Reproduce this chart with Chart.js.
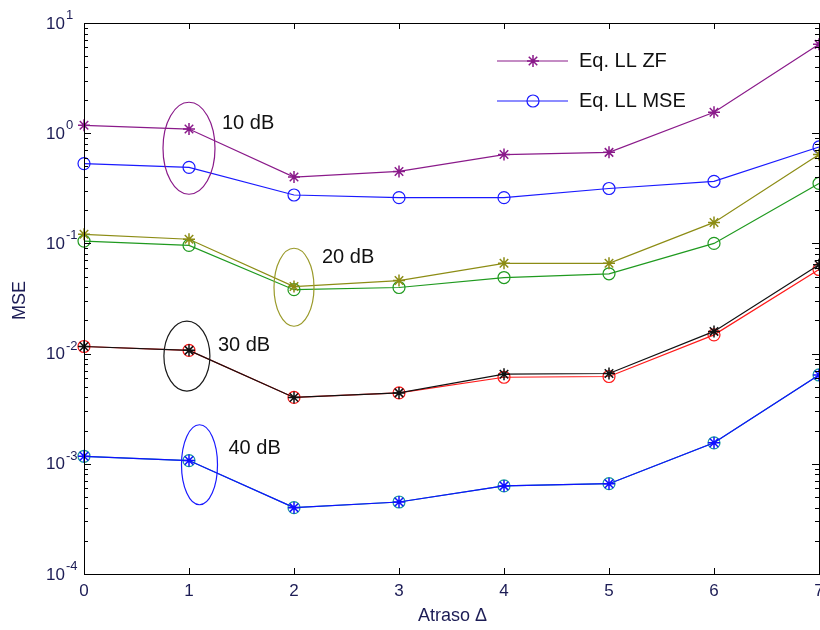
<!DOCTYPE html>
<html>
<head>
<meta charset="utf-8">
<script src="https://cdn.jsdelivr.net/npm/chart.js@4.4.1/dist/chart.umd.min.js"></script>
<style>
  html, body { margin: 0; padding: 0; background: #fff; }
  #wrap { width: 820px; height: 630px; }
</style>
</head>
<body>
<div id="wrap"><canvas id="mse-chart" width="820" height="630"></canvas></div>
<script>
// valeurs
const atraso = [0, 1, 2, 3, 4, 5, 6, 7];
const zf10  = [1.18, 1.09, 0.40, 0.45, 0.64, 0.67, 1.55, 6.4];
const mse10 = [0.53, 0.49, 0.275, 0.26, 0.26, 0.315, 0.366, 0.75];
const zf20  = [0.121, 0.109, 0.0406, 0.046, 0.066, 0.066, 0.155, 0.64];
const mse20 = [0.105, 0.096, 0.038, 0.0398, 0.049, 0.053, 0.100, 0.35];
const zf30  = [0.0116, 0.0107, 0.0040, 0.0044, 0.0065, 0.0066, 0.0159, 0.064];
const mse30 = [0.0116, 0.0107, 0.0040, 0.0044, 0.0061, 0.0062, 0.0148, 0.058];
const zf40  = [0.00117, 0.00107, 0.00040, 0.00045, 0.00063, 0.00066, 0.00155, 0.0064];
const mse40 = [0.00117, 0.00107, 0.00040, 0.00045, 0.00063, 0.00066, 0.00155, 0.0064];

const xTickValues = [0, 1, 2, 3, 4, 5, 6, 7];
const yDecades = [1, 0, -1, -2, -3, -4];
const legendNames = ['Eq. LL ZF', 'Eq. LL MSE'];

// ellipses "xx dB" (centre en coordonnees des donnees)
const snrLabels = ['10 dB', '20 dB', '30 dB', '40 dB'];
const snrCenterX = [1.0, 2.0, 0.98, 1.1];
const snrCenterY = [0.73, 0.040, 0.0095, 0.00098];

// styles
const snrStyle = [
  { color: '#8a1a8a', rx: 26, ry: 46, dx: 33, dy: -25 },
  { color: '#9a9a2a', rx: 20, ry: 39, dx: 28, dy: -30 },
  { color: '#1a1a1a', rx: 23, ry: 35, dx: 31, dy: -11 },
  { color: '#1a1aff', rx: 18, ry: 40, dx: 29, dy: -16 }
];
const tickColor = '#1c1c55';
const tickFont = '17px "Liberation Sans", Arial, sans-serif';
const supFont = '13px "Liberation Sans", Arial, sans-serif';
const textFont = '20px "Liberation Sans", Arial, sans-serif';

function serie(label, values, color, style, order) {
  return {
    label: label,
    data: values.map((v, i) => ({ x: atraso[i], y: v })),
    borderColor: color,
    backgroundColor: 'transparent',
    pointBorderColor: color,
    pointBackgroundColor: 'transparent',
    pointStyle: style,
    pointRadius: 6,
    pointBorderWidth: style === 'star' ? 1.5 : 1.2,
    borderWidth: 1.2,
    tension: 0,
    clip: false,
    order: order
  };
}

const datasets = [
  serie('ZF 10 dB', zf10, '#8a1a8a', 'star', 0),
  serie('MSE 10 dB', mse10, '#1a1aff', 'circle', 1),
  serie('ZF 20 dB', zf20, '#8c8c14', 'star', 0),
  serie('MSE 20 dB', mse20, '#1f9a1f', 'circle', 1),
  serie('ZF 30 dB', zf30, '#111111', 'star', 0),
  serie('MSE 30 dB', mse30, '#ff1a1a', 'circle', 1),
  serie('ZF 40 dB', zf40, '#1010ff', 'star', 0),
  serie('MSE 40 dB', mse40, '#1a9b9b', 'circle', 1)
];

const decorations = {
  id: 'decorations',
  afterDraw(chart) {
    const ctx = chart.ctx;
    const a = chart.chartArea;
    const xs = chart.scales.x;
    const ys = chart.scales.y;
    ctx.save();

    // cadre
    ctx.strokeStyle = '#000';
    ctx.lineWidth = 1;
    ctx.strokeRect(Math.round(a.left) + 0.5, Math.round(a.top) + 0.5,
                   Math.round(a.right - a.left), Math.round(a.bottom - a.top));

    // graduations x
    ctx.beginPath();
    xTickValues.forEach(v => {
      const px = Math.round(xs.getPixelForValue(v)) + 0.5;
      ctx.moveTo(px, a.bottom); ctx.lineTo(px, a.bottom - 6);
      ctx.moveTo(px, a.top); ctx.lineTo(px, a.top + 6);
    });
    // graduations y (log)
    for (let d = -4; d <= 1; d++) {
      const py = Math.round(ys.getPixelForValue(Math.pow(10, d))) + 0.5;
      ctx.moveTo(a.left, py); ctx.lineTo(a.left + 7, py);
      ctx.moveTo(a.right, py); ctx.lineTo(a.right - 7, py);
      if (d < 1) {
        for (let m = 2; m <= 9; m++) {
          const pm = Math.round(ys.getPixelForValue(m * Math.pow(10, d))) + 0.5;
          ctx.moveTo(a.left, pm); ctx.lineTo(a.left + 4, pm);
          ctx.moveTo(a.right, pm); ctx.lineTo(a.right - 4, pm);
        }
      }
    }
    ctx.stroke();

    // etiquettes x
    ctx.fillStyle = tickColor;
    ctx.font = tickFont;
    ctx.textAlign = 'center';
    ctx.textBaseline = 'middle';
    xTickValues.forEach(v => {
      ctx.fillText(String(v), xs.getPixelForValue(v), a.bottom + 17);
    });

    // etiquettes y : 10^n
    yDecades.forEach(d => {
      const py = ys.getPixelForValue(Math.pow(10, d));
      ctx.font = tickFont;
      ctx.textAlign = 'right';
      ctx.textBaseline = 'middle';
      ctx.fillText('10', a.left - 19, py + 1);
      ctx.font = supFont;
      ctx.textAlign = 'left';
      ctx.textBaseline = 'alphabetic';
      ctx.fillText(String(d), a.left - 18, py - 4);
    });

    // titres des axes
    ctx.font = '18px "Liberation Sans", Arial, sans-serif';
    ctx.textAlign = 'center';
    ctx.textBaseline = 'middle';
    ctx.fillText('Atraso \u0394', (a.left + a.right) / 2 + 1, a.bottom + 42);
    ctx.save();
    ctx.translate(20, (a.top + a.bottom) / 2 + 2);
    ctx.rotate(-Math.PI / 2);
    ctx.fillText('MSE', 0, 0);
    ctx.restore();

    // ellipses et textes SNR
    snrLabels.forEach((lab, i) => {
      const s = snrStyle[i];
      const cx = xs.getPixelForValue(snrCenterX[i]);
      const cy = ys.getPixelForValue(snrCenterY[i]);
      ctx.strokeStyle = s.color;
      ctx.lineWidth = 1.2;
      ctx.beginPath();
      ctx.ellipse(cx, cy, s.rx, s.ry, 0, 0, Math.PI * 2);
      ctx.stroke();
      ctx.fillStyle = '#111';
      ctx.font = textFont;
      ctx.textAlign = 'left';
      ctx.textBaseline = 'middle';
      ctx.fillText(lab, cx + s.dx, cy + s.dy);
    });

    // legende
    const legendSets = [datasets[0], datasets[1]];
    legendSets.forEach((ds, i) => {
      const y0 = a.top + 38 + i * 40;
      const x0 = a.right - 322;
      ctx.strokeStyle = ds.borderColor;
      ctx.lineWidth = 1.2;
      ctx.beginPath();
      ctx.moveTo(x0, y0); ctx.lineTo(x0 + 71, y0);
      ctx.stroke();
      ctx.fillStyle = 'transparent';
      ctx.lineWidth = ds.pointBorderWidth;
      Chart.helpers.drawPoint(ctx, { pointStyle: ds.pointStyle, radius: 6, borderWidth: ds.pointBorderWidth, rotation: 0 }, x0 + 36, y0);
      ctx.fillStyle = '#111';
      ctx.font = textFont;
      ctx.textAlign = 'left';
      ctx.textBaseline = 'middle';
      ctx.fillText(legendNames[i], x0 + 82, y0);
    });

    ctx.restore();
  }
};

new Chart(document.getElementById('mse-chart').getContext('2d'), {
  type: 'line',
  data: { datasets: datasets },
  options: {
    responsive: false,
    animation: false,
    events: [],
    layout: { autoPadding: false, padding: { top: 23, right: 1, left: 0, bottom: 0 } },
    plugins: { legend: { display: false }, tooltip: { enabled: false } },
    scales: {
      x: {
        type: 'linear', min: 0, max: 7,
        grid: { display: false }, border: { display: false },
        ticks: { display: false },
        afterFit: s => { s.height = 56; s.paddingLeft = 0; s.paddingRight = 0; }
      },
      y: {
        type: 'logarithmic', min: 1e-4, max: 10,
        grid: { display: false }, border: { display: false },
        ticks: { display: false },
        afterFit: s => { s.width = 84; s.paddingTop = 0; s.paddingBottom = 0; }
      }
    }
  },
  plugins: [decorations]
});
</script>
</body>
</html>
